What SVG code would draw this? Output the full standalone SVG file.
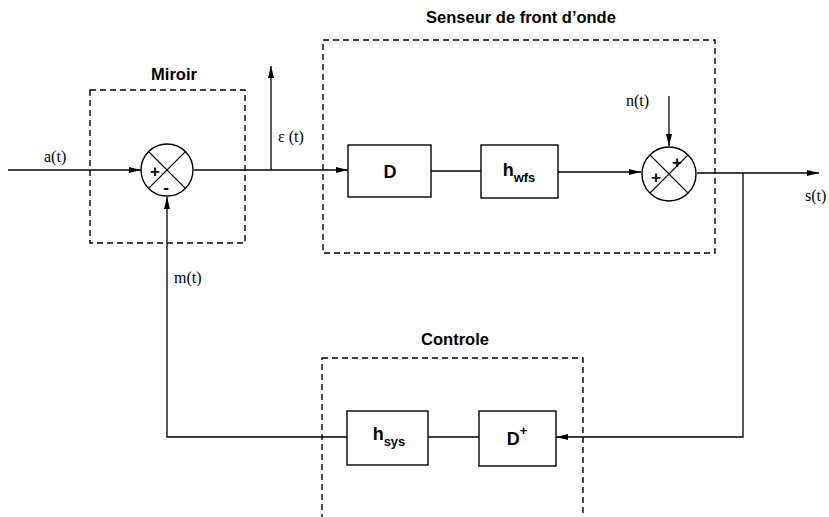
<svg xmlns="http://www.w3.org/2000/svg" width="829" height="517" viewBox="0 0 829 517">
<style>
.ln{stroke:#000;stroke-width:1.3;fill:none}
.dash{stroke:#000;stroke-width:1.4;fill:none;stroke-dasharray:6,4}
.box{stroke:#000;stroke-width:1.4;fill:#fff}
.ttl{font-family:"Liberation Sans",Arial,sans-serif;font-weight:bold;font-size:16.5px;text-anchor:middle}
.bl{font-family:"Liberation Sans",Arial,sans-serif;font-weight:bold;font-size:18px;text-anchor:middle}
.sg{font-family:"Liberation Sans",Arial,sans-serif;font-weight:bold;font-size:17px;text-anchor:middle}
.sr{font-family:"Liberation Serif","Times New Roman",serif;font-size:16px}
</style>
<defs>
<marker id="ar" markerWidth="12" markerHeight="8" refX="12" refY="4" orient="auto" markerUnits="userSpaceOnUse">
<path d="M0,1 L12,4 L0,7 Z" fill="#000"/>
</marker>
</defs>
<g id="groups">
<g id="miroir"><rect class="dash" x="90" y="90" width="155" height="153"/><text class="ttl" x="174" y="80">Miroir</text></g>
<g id="senseur"><rect class="dash" x="323" y="40" width="392" height="213"/><text class="ttl" x="521" y="23">Senseur de front d’onde</text></g>
<g id="controle"><rect class="dash" x="322" y="358" width="261" height="165"/><text class="ttl" x="455" y="345">Controle</text></g>
</g>
<g id="connectors">
<line class="ln" x1="8" y1="170" x2="141" y2="170" marker-end="url(#ar)"/>
<line class="ln" x1="194" y1="170" x2="348" y2="170" marker-end="url(#ar)"/>
<line class="ln" x1="271" y1="170" x2="271" y2="66" marker-end="url(#ar)"/>
<line class="ln" x1="431" y1="171" x2="481" y2="171"/>
<line class="ln" x1="558" y1="172" x2="641" y2="172" marker-end="url(#ar)"/>
<line class="ln" x1="669" y1="96" x2="669" y2="146" marker-end="url(#ar)"/>
<line class="ln" x1="697" y1="173" x2="819" y2="173" marker-end="url(#ar)"/>
<polyline class="ln" points="743,173 743,437 556,437" marker-end="url(#ar)"/>
<line class="ln" x1="428" y1="437" x2="479" y2="437"/>
<polyline class="ln" points="347,437 167,437 167,197" marker-end="url(#ar)"/>
</g>
<g id="sum1">
<circle class="box" cx="167" cy="170" r="26"/>
<line class="ln" x1="148.6" y1="151.6" x2="185.4" y2="188.4"/>
<line class="ln" x1="185.4" y1="151.6" x2="148.6" y2="188.4"/>
<text class="sg" x="155" y="177">+</text>
<text class="sg" x="166" y="193">-</text>
</g>
<g id="sum2">
<circle class="box" cx="669" cy="174" r="27"/>
<line class="ln" x1="649.9" y1="154.9" x2="688.1" y2="193.1"/>
<line class="ln" x1="688.1" y1="154.9" x2="649.9" y2="193.1"/>
<text class="sg" x="677" y="168">+</text>
<text class="sg" x="656" y="183">+</text>
</g>
<g id="D"><rect class="box" x="348" y="145" width="83" height="52"/><text class="bl" x="390" y="178">D</text></g>
<g id="hwfs"><rect class="box" x="481" y="145" width="77" height="53"/><text class="bl" x="519" y="176">h<tspan font-size="13" dy="6">wfs</tspan></text></g>
<g id="hsys"><rect class="box" x="347" y="411" width="81" height="54"/><text class="bl" x="389" y="440">h<tspan font-size="13" dy="6">sys</tspan></text></g>
<g id="Dplus"><rect class="box" x="479" y="411" width="77" height="55"/><text class="bl" x="517" y="445">D<tspan font-size="13" dy="-10">+</tspan></text></g>
<g id="labels">
<text class="sr" x="44" y="162">a(t)</text>
<text class="sr" x="278" y="142">ε (t)</text>
<text class="sr" x="626" y="106">n(t)</text>
<text class="sr" x="805" y="201">s(t)</text>
<text class="sr" x="174" y="283">m(t)</text>
</g>
</svg>
